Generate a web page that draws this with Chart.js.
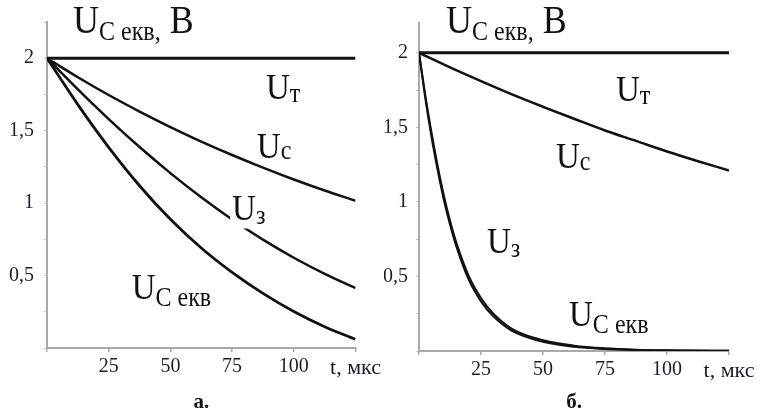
<!DOCTYPE html>
<html><head><meta charset="utf-8">
<script src="https://cdn.jsdelivr.net/npm/chart.js@4.4.1/dist/chart.umd.min.js"></script>
<style>
html,body{margin:0;padding:0;background:#fff;}
#wrap{position:relative;width:768px;height:414px;overflow:hidden;}
.panel{position:absolute;top:0;width:384px;height:414px;}
canvas{display:block;}
</style></head><body>
<div id="wrap">
<div class="panel" style="left:0"><canvas id="cA" width="384" height="414"></canvas></div>
<div class="panel" style="left:384px"><canvas id="cB" width="384" height="414"></canvas></div>
</div>
<script>
// ---- data, panel а ----
const timeA = [0, 12.5, 25, 37.5, 50, 62.5, 75, 87.5, 100, 112.5, 125];
const uTA   = [2, 2, 2, 2, 2, 2, 2, 2, 2, 2, 2];
const uCA   = [2.0, 1.869, 1.746, 1.632, 1.525, 1.425, 1.332, 1.245, 1.163, 1.087, 1.016];
const uZA   = [2.0, 1.785, 1.58, 1.387, 1.207, 1.04, 0.887, 0.748, 0.623, 0.512, 0.414];
const uEqA  = [2.0, 1.68, 1.385, 1.12, 0.888, 0.69, 0.522, 0.377, 0.252, 0.147, 0.06];
// ---- data, panel б ----
const timeB = [0, 12.5, 25, 37.5, 50, 62.5, 75, 87.5, 100, 112.5, 125];
const uTB   = [2, 2, 2, 2, 2, 2, 2, 2, 2, 2, 2];
const uCB   = [2.0, 1.902, 1.810, 1.721, 1.638, 1.558, 1.479, 1.409, 1.338, 1.273, 1.211];
const timeBFast = [0, 2.5, 5, 7.5, 10, 12.5, 15, 20, 25, 30, 37.5, 50, 62.5, 75, 87.5, 100, 112.5, 125];
const uZB   = [2.0, 1.72, 1.47, 1.245, 1.045, 0.875, 0.73, 0.505, 0.355, 0.25, 0.149, 0.072, 0.036, 0.018, 0.009, 0.005, 0.003, 0.002];
const uEqB  = [2.0, 1.70, 1.44, 1.215, 1.015, 0.848, 0.705, 0.48, 0.333, 0.232, 0.135, 0.062, 0.028, 0.013, 0.006, 0.003, 0.002, 0.001];
// ---- tick labels ----
const xTickValues = [0, 25, 50, 75, 100, 125];
const xTickLabels = ['', '25', '50', '75', '100', 't, мкс'];
const yTickValues = [0.5, 1, 1.5, 2];
const yTickLabels = ['0,5', '1', '1,5', '2'];

const SERIF = '"Liberation Serif", "Times New Roman", serif';
const INK = '#111';
const AXIS = '#a9a9a9';

function pts(xs, ys){ return xs.map((x,i)=>({x:x, y:ys[i]})); }

function drawText(ctx, x, y, parts){
  let cx = x;
  parts.forEach(p=>{
    ctx.save();
    ctx.font = p.size + 'px ' + SERIF;
    ctx.translate(cx, y + (p.dy||0));
    ctx.scale(1, 1.1);
    ctx.fillText(p.text, 0, 0);
    ctx.restore();
    ctx.font = p.size + 'px ' + SERIF;
    cx += ctx.measureText(p.text).width;
  });
  return cx;
}
function measure(ctx, parts){
  let w=0;
  parts.forEach(p=>{ ctx.font = p.size + 'px ' + SERIF; w += ctx.measureText(p.text).width; });
  return w;
}

const annot = {
  id: 'annot',
  afterDatasetsDraw(chart, args, o){
    const ctx = chart.ctx, xs = chart.scales.x, ys = chart.scales.y, ca = chart.chartArea;
    ctx.save();
    ctx.textBaseline = 'alphabetic';
    ctx.textAlign = 'left';
    o.labels.forEach(l=>{
      const x = xs.getPixelForValue(l.t), y = ys.getPixelForValue(l.v);
      const parts = [{text:'U', size:33}, {text:l.sub, size:24, dy:l.dy}];
      if (l.bg){
        const w = measure(ctx, parts);
        ctx.fillStyle = '#fff';
        ctx.fillRect(x-2, y-26, w+4, 26 + l.dy + 4);
      }
      ctx.fillStyle = INK;
      drawText(ctx, x, y, parts);
    });
    ctx.fillStyle = INK;
    drawText(ctx, ca.left + o.titleDx, 33, [
      {text:'U', size:36}, {text:'C екв,', size:24, dy:7}, {text:' B', size:36}
    ]);
    ctx.font = 'bold 21px ' + SERIF;
    ctx.textAlign = 'center';
    ctx.fillText(o.caption, (ca.left+ca.right)/2, 408);
    ctx.restore();
  }
};

function makeChart(id, ds, yMax, axisW, pad, yPad, opts){
  return new Chart(document.getElementById(id), {
    type: 'line',
    data: { datasets: ds.map(d=>({
      label: d.label, data: d.data, borderColor: INK, borderWidth: d.w,
      pointRadius: 0, fill: false, cubicInterpolationMode: 'monotone'
    })) },
    options: {
      responsive: false, animation: false, devicePixelRatio: 1,
      layout: { padding: pad },
      plugins: { legend:{display:false}, tooltip:{enabled:false}, annot: opts },
      scales: {
        x: {
          type: 'linear', min: 0, max: 125,
          afterBuildTicks: s => { s.ticks = xTickValues.map(v=>({value:v})); },
          afterFit: s => { s.height = 40; },
          border: { display:true, color: AXIS, width: 2 },
          grid: { drawOnChartArea:false, drawTicks:true, tickLength:4, color: AXIS, lineWidth: 1.5 },
          ticks: {
            autoSkip:false, maxRotation:0, padding: 3, color: '#1c1c2a',
            font: c => ({ family: SERIF, size: (c.tick && c.tick.value === 125) ? 22 : 20 }),
            callback: v => { const i = xTickValues.indexOf(v); return i>=0 ? xTickLabels[i] : ''; }
          }
        },
        y: {
          type: 'linear', min: 0, max: yMax,
          afterBuildTicks: s => { const t=[]; for(let v=0; v<=yMax+1e-9; v+=0.25) t.push({value:Math.round(v*100)/100}); s.ticks=t; },
          afterFit: s => { s.width = axisW; },
          border: { display:true, color: AXIS, width: 2 },
          grid: { drawOnChartArea:false, drawTicks:true, tickLength:3, color: '#c8c8c8', lineWidth: 1 },
          ticks: {
            autoSkip:false, padding: yPad, color: '#1c1c2a',
            font: { family: SERIF, size: 20 },
            callback: v => { const i = yTickValues.indexOf(Math.round(v*100)/100); return i>=0 ? yTickLabels[i] : ''; }
          }
        }
      }
    },
    plugins: [annot]
  });
}

makeChart('cA', [
  {label:'Uт', data: pts(timeA, uTA), w: 3},
  {label:'Uc', data: pts(timeA, uCA), w: 2.5},
  {label:'Uз', data: pts(timeA, uZA), w: 2.5},
  {label:'UC екв', data: pts(timeA, uEqA), w: 2.8}
], 2.25, 47, {left:0, top:19.5, right:27, bottom:26}, 10, {
  titleDx: 26, caption: 'а.',
  labels: [
    {t:88.7, v:1.72, sub:'т', dy:3, bg:false},
    {t:85,   v:1.31, sub:'c', dy:1, bg:true},
    {t:75,   v:0.88, sub:'з', dy:4, bg:true},
    {t:34.3, v:0.34, sub:'C екв', dy:7, bg:false}
  ]
});

makeChart('cB', [
  {label:'Uт', data: pts(timeB, uTB), w: 3},
  {label:'Uc', data: pts(timeB, uCB), w: 2.5},
  {label:'Uз', data: pts(timeBFast, uZB), w: 2},
  {label:'UC екв', data: pts(timeBFast, uEqB), w: 2}
], 2.2, 35, {left:0, top:23, right:39, bottom:23}, 8, {
  titleDx: 27, caption: 'б.',
  labels: [
    {t:79.4, v:1.68, sub:'т', dy:3, bg:false},
    {t:55.2, v:1.23, sub:'c', dy:2, bg:false},
    {t:27.4, v:0.66, sub:'з', dy:4, bg:false},
    {t:60.5, v:0.17, sub:'C екв', dy:7, bg:false}
  ]
});
</script>
</body></html>
